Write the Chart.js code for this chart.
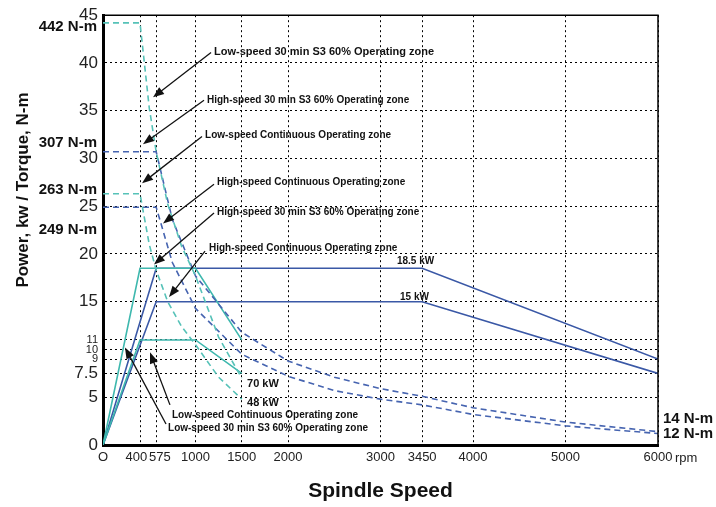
<!DOCTYPE html>
<html>
<head>
<meta charset="utf-8">
<script src="https://cdn.jsdelivr.net/npm/chart.js@4"></script>
<style>
html,body{margin:0;padding:0;background:#fff;}
#wrap{width:716px;height:507px;position:relative;}
</style>
</head>
<body>
<div id="wrap"><canvas id="c" width="716" height="507"></canvas></div>
<script>
// ---- data ----
const xTicks = [0, 400, 575, 1000, 1500, 2000, 3000, 3450, 4000, 5000, 6000];
const xTickLabels = ['O', '400  ', '  575', '1000', '1500', '2000', '3000', '3450', '4000', '5000', '6000'];
const yTicks = [0, 5, 7.5, 9, 10, 11, 15, 20, 25, 30, 35, 40, 45];
const yTickLabels = ['0', '5', '7.5', '9', '10', '11', '15', '20', '25', '30', '35', '40', '45'];

// power (kW)
const rpmLowPower = [0, 400, 1000, 1500];
const lowS3Power = [0, 18.5, 18.5, 11];
const lowContPower = [0, 11, 11, 7.5];
const rpmHighPower = [0, 575, 3450, 6000];
const highS3Power = [0, 18.5, 18.5, 9];
const highContPower = [0, 15, 15, 7.5];

// torque (N-m / 10, same axis)
const rpmLowTorque = [0, 400, 500, 575, 700, 850, 1000, 1250, 1500];
const lowS3Torque = [44.2, 44.2, 35.3, 30.7, 25.2, 20.8, 17.7, 11.3, 7.0];
const lowContTorque = [26.3, 26.3, 21.0, 18.3, 15.0, 12.4, 10.5, 7.1, 4.8];
const rpmHighTorque = [0, 575, 750, 1000, 1500, 2000, 2500, 3000, 3450, 4000, 5000, 6000];
const highS3Torque = [30.7, 30.7, 23.6, 17.7, 11.8, 8.8, 7.1, 5.9, 5.1, 3.9, 2.4, 1.4];
const highContTorque = [24.9, 24.9, 19.1, 14.3, 9.5, 7.2, 5.7, 4.8, 4.2, 3.2, 2.0, 1.2];

// text labels
const torqueLeftLabels = ['442 N-m', '307 N-m', '263 N-m', '249 N-m'];
const torqueLeftAt = [43.75, 31.6, 26.7, 22.5];
const zoneTexts = [
  'Low-speed 30 min S3 60% Operating zone',
  'High-speed 30 min S3 60% Operating zone',
  'Low-speed Continuous Operating zone',
  'High-speed Continuous Operating zone',
  'High-speed 30 min S3 60% Operating zone',
  'High-speed Continuous Operating zone',
  'Low-speed Continuous Operating zone',
  'Low-speed 30 min S3 60% Operating zone'
];
// anchors in data units: [textX, textY, tailX, tailY, headX, headY]
const zoneAnchors = [
  [1200, 41.1, 1168, 41.1, 541, 36.4],
  [1124, 36.1, 1092, 36.1, 432, 31.5],
  [1103, 32.4, 1070, 32.3, 422, 27.4],
  [1232, 27.5, 1200, 27.3, 649, 23.2],
  [1232, 24.4, 1200, 24.3, 551, 18.9],
  [1146, 20.6, 1103, 20.3, 714, 15.5],
  [746, 3.1, 724, 4.2, 508, 9.7],
  [703, 1.8, 681, 2.2, 238, 10.2]
];
const valueTexts = ['18.5 kW', '15 kW', '70 kW', '48 kW'];
const valueAnchors = [[3178, 19.2], [3211, 15.45], [1557, 6.35], [1557, 4.35]];
const rightTexts = ['14 N-m', '12 N-m'];
const rightAt = [2.75, 1.2];

const TEAL = 'rgb(62,184,174)';
const TEAL_D = 'rgb(86,194,184)';
const BLUE = 'rgb(58,88,166)';
const BLUE_D = 'rgb(70,100,176)';

function pts(xs, ys) { return xs.map((v, i) => ({x: v, y: ys[i]})); }

const FONT = '"Liberation Sans", Arial, Helvetica, sans-serif';

const overlay = {
  id: 'overlay',
  afterDatasetsDraw(chart) {
    const {ctx, chartArea: ca, scales: {x, y}} = chart;
    ctx.save();
    // top / right frame
    ctx.strokeStyle = '#000';
    ctx.lineWidth = 1.5;
    ctx.beginPath();
    ctx.moveTo(ca.left, ca.top);
    ctx.lineTo(ca.right, ca.top);
    ctx.lineTo(ca.right, ca.bottom);
    ctx.stroke();

    // zone annotations with arrows
    ctx.fillStyle = '#111';
    ctx.strokeStyle = '#111';
    ctx.textBaseline = 'middle';
    ctx.textAlign = 'left';
    zoneTexts.forEach((t, i) => {
      const a = zoneAnchors[i];
      ctx.font = (i === 0 ? 'bold 11px ' : 'bold 10px ') + FONT;
      ctx.fillText(t, x.getPixelForValue(a[0]), y.getPixelForValue(a[1]));
      const x1 = x.getPixelForValue(a[2]), y1 = y.getPixelForValue(a[3]);
      const x2 = x.getPixelForValue(a[4]), y2 = y.getPixelForValue(a[5]);
      const ang = Math.atan2(y2 - y1, x2 - x1);
      const L = 11, W = 4.2;
      ctx.lineWidth = 1.3;
      ctx.beginPath();
      ctx.moveTo(x1, y1);
      ctx.lineTo(x2 - Math.cos(ang) * L * 0.8, y2 - Math.sin(ang) * L * 0.8);
      ctx.stroke();
      ctx.beginPath();
      ctx.moveTo(x2, y2);
      ctx.lineTo(x2 - Math.cos(ang) * L - Math.sin(ang) * W, y2 - Math.sin(ang) * L + Math.cos(ang) * W);
      ctx.lineTo(x2 - Math.cos(ang) * L + Math.sin(ang) * W, y2 - Math.sin(ang) * L - Math.cos(ang) * W);
      ctx.closePath();
      ctx.fill();
    });

    // power value labels
    valueTexts.forEach((t, i) => {
      ctx.font = (i < 2 ? 'bold 10px ' : 'bold 11px ') + FONT;
      ctx.fillText(t, x.getPixelForValue(valueAnchors[i][0]), y.getPixelForValue(valueAnchors[i][1]));
    });

    // right torque labels
    ctx.font = 'bold 15px ' + FONT;
    ctx.fillStyle = '#111';
    rightTexts.forEach((t, i) => {
      ctx.fillText(t, ca.right + 5, y.getPixelForValue(rightAt[i]));
    });

    // left torque labels
    ctx.textAlign = 'right';
    torqueLeftLabels.forEach((t, i) => {
      ctx.fillText(t, ca.left - 6, y.getPixelForValue(torqueLeftAt[i]));
    });

    // rpm unit
    ctx.textAlign = 'left';
    ctx.font = '13px ' + FONT;
    ctx.fillStyle = '#222';
    ctx.fillText('rpm', x.getPixelForValue(6000) + 17, ca.bottom + 13);

    // y-axis title
    ctx.save();
    ctx.translate(23, 190);
    ctx.rotate(-Math.PI / 2);
    ctx.textAlign = 'center';
    ctx.font = 'bold 17px ' + FONT;
    ctx.fillStyle = '#111';
    ctx.fillText('Power, kw / Torque, N-m', 0, 0);
    ctx.restore();
    ctx.restore();
  }
};

const solid = (label, xs, ys, color) => ({
  label, data: pts(xs, ys), borderColor: color, borderWidth: 1.6,
  pointRadius: 0, fill: false, tension: 0
});
const dashed = (label, xs, ys, color) => ({
  label, data: pts(xs, ys), borderColor: color, borderWidth: 1.6,
  borderDash: [6, 4], pointRadius: 0, fill: false, tension: 0
});

new Chart(document.getElementById('c'), {
  type: 'line',
  data: {
    datasets: [
      dashed('Low-speed 30 min S3 torque', rpmLowTorque, lowS3Torque, TEAL_D),
      dashed('Low-speed continuous torque', rpmLowTorque, lowContTorque, TEAL_D),
      dashed('High-speed 30 min S3 torque', rpmHighTorque, highS3Torque, BLUE_D),
      dashed('High-speed continuous torque', rpmHighTorque, highContTorque, BLUE_D),
      solid('Low-speed 30 min S3 power', rpmLowPower, lowS3Power, TEAL),
      solid('Low-speed continuous power', rpmLowPower, lowContPower, TEAL),
      solid('High-speed 30 min S3 power', rpmHighPower, highS3Power, BLUE),
      solid('High-speed continuous power', rpmHighPower, highContPower, BLUE)
    ]
  },
  options: {
    responsive: false,
    animation: false,
    layout: {padding: {top: 13, right: 58, left: 0, bottom: 0}},
    plugins: {legend: {display: false}, tooltip: {enabled: false}},
    scales: {
      x: {
        type: 'linear', min: 0, max: 6000,
        afterBuildTicks: s => { s.ticks = xTicks.map(v => ({value: v})); },
        afterFit: s => { s.height = 62; },
        ticks: {
          autoSkip: false, maxRotation: 0, padding: 5, color: '#222',
          font: {family: FONT, size: 13},
          callback: (v, i) => xTickLabels[i]
        },
        grid: {color: '#000', lineWidth: 1, drawTicks: false},
        border: {display: true, color: '#000', width: 3, dash: [2, 3]},
        title: {display: true, text: 'Spindle Speed', color: '#111',
          font: {family: FONT, size: 21, weight: 'bold'}, padding: {top: 0, bottom: 3}}
      },
      y: {
        type: 'linear', min: 0, max: 45,
        afterBuildTicks: s => { s.ticks = yTicks.map(v => ({value: v})); },
        afterFit: s => { s.width = 103; },
        ticks: {
          autoSkip: false, padding: 5, color: '#222',
          font: ctx => (ctx.tick && [9, 10, 11].includes(ctx.tick.value))
            ? {family: FONT, size: 11} : {family: FONT, size: 17},
          callback: (v, i) => yTickLabels[i]
        },
        grid: {color: '#000', lineWidth: 1, drawTicks: false},
        border: {display: true, color: '#000', width: 3, dash: [2, 3]}
      }
    }
  },
  plugins: [overlay]
});
</script>
</body>
</html>
